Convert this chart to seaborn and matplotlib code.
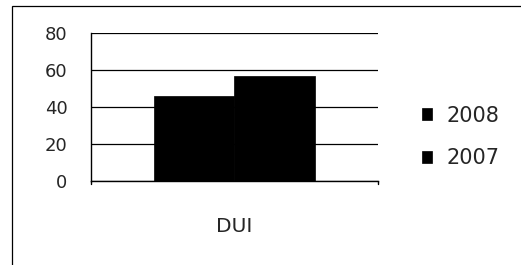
import matplotlib
matplotlib.use("Agg")
import matplotlib.pyplot as plt
import seaborn as sns
import pandas as pd
from matplotlib.patches import Rectangle

categories = ["DUI"]
series = ["2008", "2007"]
values_2008 = [46]
values_2007 = [57]
yticks = [0, 20, 40, 60, 80]

rows = []
for i, c in enumerate(categories):
    rows.append({"cat": c, "year": series[0], "val": values_2008[i]})
    rows.append({"cat": c, "year": series[1], "val": values_2007[i]})
df = pd.DataFrame(rows)

sns.set_style("white")
plt.rcParams["font.family"] = ["DejaVu Sans"]

fig = plt.figure(figsize=(5.21, 2.65), dpi=100)
ax = fig.add_axes([91/521, 1-181/265, (378-91)/521, (181-33)/265])

sns.barplot(data=df, x="cat", y="val", hue="year", hue_order=series,
            palette=["black", "black"], width=0.563, ax=ax,
            saturation=1, legend=True, edgecolor="black", linewidth=0.5)

ax.set_ylim(0, 80)
ax.set_yticks(yticks)
ax.set_yticklabels([str(t) for t in yticks], fontsize=13)
ax.set_xlim(-0.5, 0.5)
ax.set_xlabel("")
ax.set_ylabel("")
ax.set_xticks([0])
ax.set_xticklabels(categories, fontsize=14.5)
ax.tick_params(axis="x", length=0, pad=26)
ax.tick_params(axis="y", length=4, width=1, color="black", direction="out", pad=13)
ax.yaxis.grid(True, color="black", linewidth=0.9)
ax.set_axisbelow(True)
for s in ["top", "right"]:
    ax.spines[s].set_visible(False)
ax.spines["left"].set_color("black")
ax.spines["bottom"].set_color("black")
ax.spines["left"].set_linewidth(1)
ax.spines["bottom"].set_linewidth(1)
for xb in [-0.5, 0.5]:
    ax.plot([xb, xb], [0, -1.6], color="black", lw=1, clip_on=False)

handles, labels = ax.get_legend_handles_labels()
leg = ax.legend(handles, labels, loc="center left", bbox_to_anchor=(422/521, 1-137/265),
                bbox_transform=fig.transFigure, frameon=False, fontsize=15,
                handlelength=0.48, handleheight=0.55, handletextpad=0.7,
                labelspacing=1.1, borderpad=0, borderaxespad=0)

fig.patches.append(Rectangle((12/521, -0.05), 1.0, 1 - 6/265 + 0.05,
                             transform=fig.transFigure, fill=False,
                             edgecolor="black", linewidth=0.9))

fig.savefig("out.png", dpi=100)
